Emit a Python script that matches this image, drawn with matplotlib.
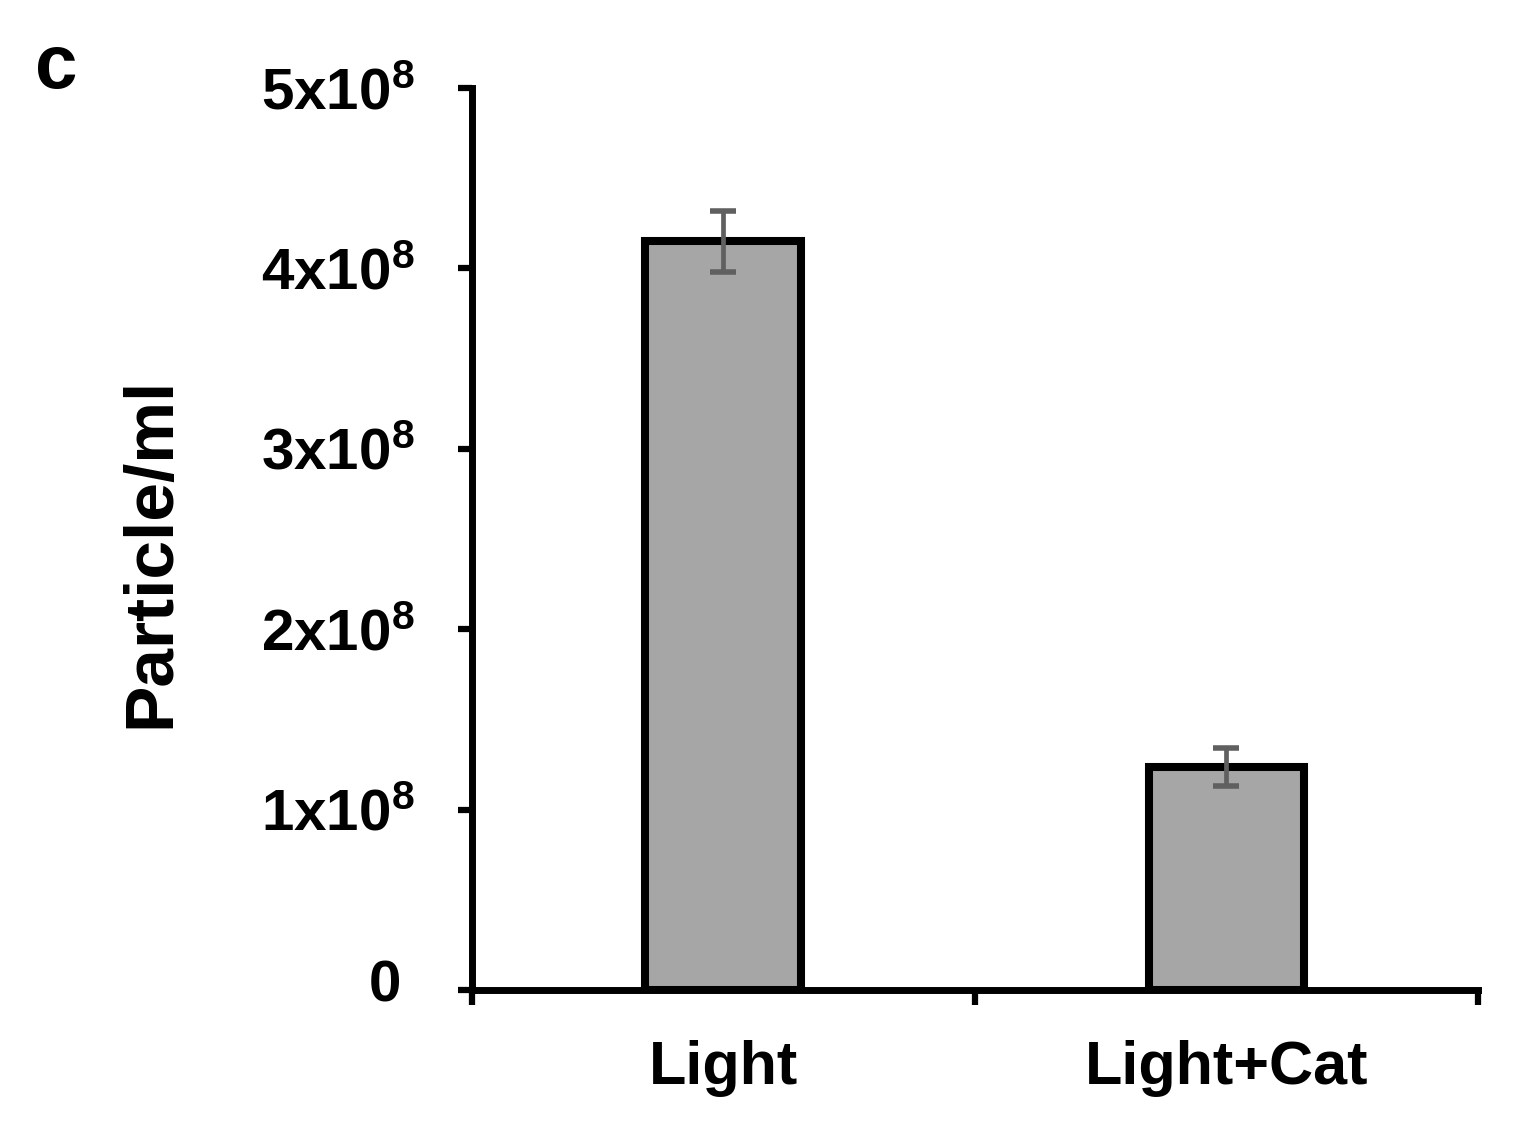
import numpy as np
import matplotlib
matplotlib.use("Agg")
import matplotlib.pyplot as plt
import matplotlib.transforms as mtransforms
from matplotlib.ticker import FixedLocator, FuncFormatter

# values
groups = ["Light", "Light+Cat"]
means = [4.15e8, 1.235e8]
errs = [0.17e8, 0.105e8]
y_ticks = [0, 1e8, 2e8, 3e8, 4e8, 5e8]

plt.rcParams['font.family'] = ['Liberation Sans', 'DejaVu Sans']
plt.rcParams['font.weight'] = 'bold'
plt.rcParams['mathtext.fontset'] = 'custom'
plt.rcParams['mathtext.rm'] = 'Liberation Sans:bold'
plt.rcParams['mathtext.it'] = 'Liberation Sans:bold'
plt.rcParams['mathtext.bf'] = 'Liberation Sans:bold'


def sci_label(v, pos=None):
    if v == 0:
        return "0"
    m = int(round(v / 1e8))
    return r"%dx10$^{8}$" % m


fig = plt.figure(figsize=(15.19, 11.26), dpi=100)
ax = fig.add_axes([0.3107, 0.1208, 0.6623, 0.8010])

x = np.arange(len(groups))
ax.bar(x, means, width=0.31, color="#a6a6a6", edgecolor="black",
       linewidth=5.8, zorder=3)
ax.errorbar(x, means, yerr=errs, fmt="none", ecolor="#606060",
            elinewidth=3.4, capsize=9.5, capthick=4, zorder=4)

ax.set_xlim(-0.5, len(groups) - 0.5)
ax.set_ylim(0, 5e8)

# y axis
ax.yaxis.set_major_locator(FixedLocator(y_ticks))
ax.yaxis.set_major_formatter(FuncFormatter(sci_label))
ax.tick_params(axis='y', which='major', direction='out', length=10,
               width=4.5, labelsize=42, pad=31)
for lab in ax.get_yticklabels():
    lab.set_fontweight('bold')
# the "0" sits a little further left and higher in the original
zero_lab = ax.yaxis.get_major_ticks()[0].label1
zero_lab.set_transform(zero_lab.get_transform() +
                       mtransforms.ScaledTranslation(-14 / 100, 9 / 100,
                                                     fig.dpi_scale_trans))

# x axis: ticks between the categories, labels centred under the bars
ax.xaxis.set_major_locator(FixedLocator(np.arange(len(groups) + 1) - 0.5))
ax.xaxis.set_major_formatter(FuncFormatter(lambda v, p: ""))
ax.xaxis.set_minor_locator(FixedLocator(x))
ax.set_xticklabels(groups, minor=True)
ax.tick_params(axis='x', which='major', direction='out', length=11,
               width=4.5)
ax.tick_params(axis='x', which='minor', length=0, labelsize=44, pad=36)
for lab in ax.get_xticklabels(minor=True):
    lab.set_fontweight('bold')

for side in ['top', 'right']:
    ax.spines[side].set_visible(False)
for side in ['left', 'bottom']:
    ax.spines[side].set_linewidth(5)
    ax.spines[side].set_zorder(5)

ax.set_ylabel("Particle/ml", fontsize=50, fontweight='bold')
ax.yaxis.set_label_coords(-0.287, 0.485)

fig.text(0.023, 0.922, "c", fontsize=55, fontweight='bold',
         ha='left', va='baseline')

fig.savefig("out.png", dpi=100)
